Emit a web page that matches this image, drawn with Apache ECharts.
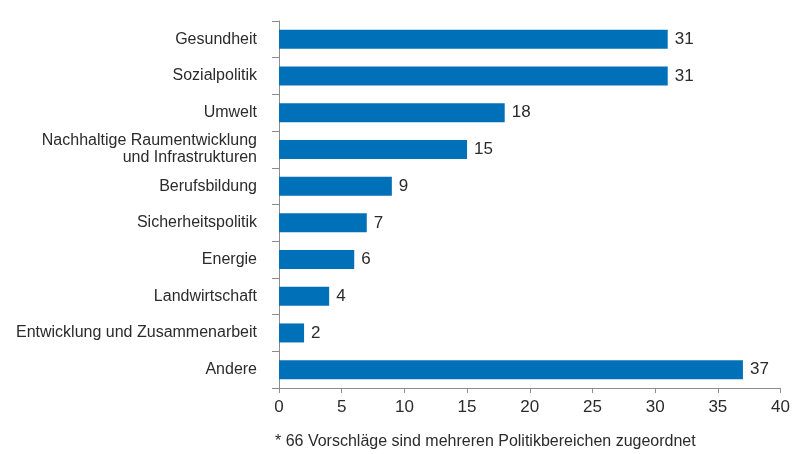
<!DOCTYPE html>
<html>
<head>
<meta charset="utf-8">
<script src="https://cdn.jsdelivr.net/npm/echarts@6/dist/echarts.min.js"></script>
<style>
  html, body { margin: 0; padding: 0; background: #fff; }
  #main { width: 793px; height: 454px; }
</style>
</head>
<body>
<div id="main"></div>
<script>
// Politikbereiche (von oben nach unten)
var categories = [
  'Gesundheit',
  'Sozialpolitik',
  'Umwelt',
  'Nachhaltige Raumentwicklung\nund Infrastrukturen',
  'Berufsbildung',
  'Sicherheitspolitik',
  'Energie',
  'Landwirtschaft',
  'Entwicklung und Zusammenarbeit',
  'Andere'
];
var values = [31, 31, 18, 15, 9, 7, 6, 4, 2, 37];
var xTicks = [0, 5, 10, 15, 20, 25, 30, 35, 40];
var footnote = '* 66 Vorschläge sind mehreren Politikbereichen zugeordnet';

var FONT = '"Liberation Sans", Arial, sans-serif';
var chart = echarts.init(document.getElementById('main'));

var option = {
  animation: false,
  textStyle: { fontFamily: FONT },
  grid: { left: 279, right: 9, top: 21, bottom: 66, containLabel: false },
  graphic: [{
    type: 'text',
    left: 275,
    top: 434,
    style: { text: footnote, font: '16px ' + FONT, fill: '#2b2b2b' }
  }],
  xAxis: {
    type: 'value',
    min: xTicks[0],
    max: xTicks[xTicks.length - 1],
    interval: 5,
    splitLine: { show: false },
    axisLine: { show: true, lineStyle: { color: '#8c8c8c', width: 1 } },
    axisTick: { show: true, length: 5, lineStyle: { color: '#8c8c8c' } },
    axisLabel: { color: '#2b2b2b', fontSize: 17, fontFamily: FONT, margin: 11 }
  },
  yAxis: {
    type: 'category',
    inverse: true,
    data: categories,
    axisLine: { show: true, lineStyle: { color: '#8c8c8c', width: 1 } },
    axisTick: { show: true, length: 7, lineStyle: { color: '#8c8c8c' } },
    axisLabel: { color: '#2b2b2b', fontSize: 16, fontFamily: FONT, margin: 22, lineHeight: 17, align: 'right' }
  },
  series: [{
    type: 'bar',
    data: values,
    barWidth: 19,
    itemStyle: { color: '#0070b8' },
    label: {
      show: true,
      position: 'right',
      distance: 7,
      color: '#2b2b2b',
      fontSize: 17,
      fontFamily: FONT
    }
  }]
};
chart.setOption(option);
</script>
</body>
</html>
